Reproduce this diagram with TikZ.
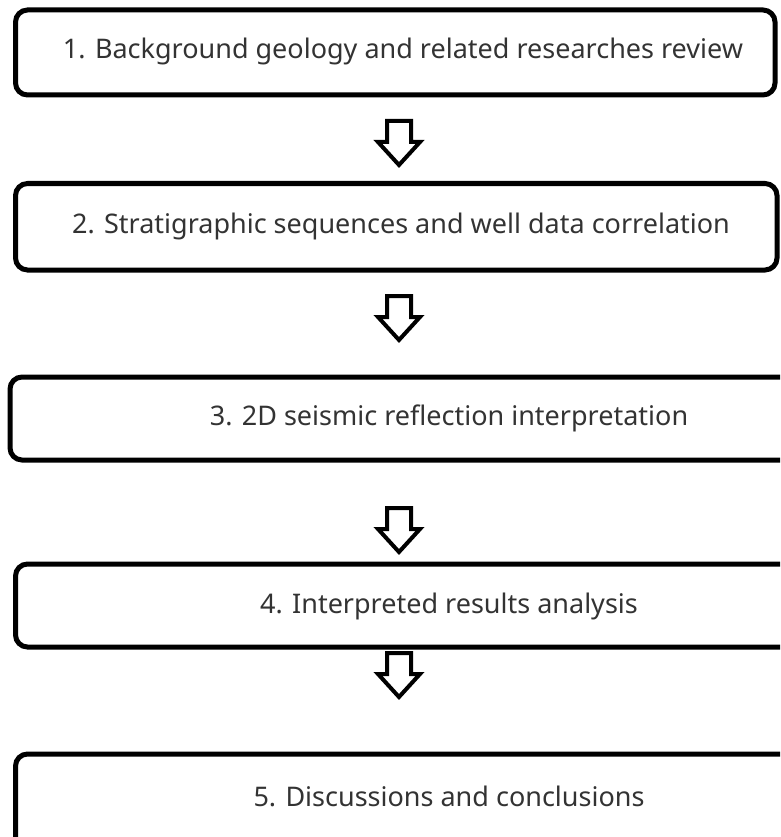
\documentclass[tikz,border=0pt]{standalone}
\usepackage{fontspec}
\setmainfont{Noto Sans}
\begin{document}
\begin{tikzpicture}[x=1pt,y=-1pt,
  stepbox/.style={draw=black,line width=5pt,rounded corners=12pt,fill=white},
  lbl/.style={font=\fontsize{27}{32}\selectfont,text=black!80,inner sep=0pt,anchor=center},
  downarrow/.style={draw=black,line width=4pt,line join=miter,fill=white}]
\useasboundingbox (0,0) rectangle (780,837);
\clip (0,0) rectangle (780,837);
% boxes
\draw[stepbox] (15.5,10) rectangle (775,95);
\draw[stepbox] (15.5,183.5) rectangle (777,270);
\draw[stepbox] (10,377) rectangle (890,460);
\draw[stepbox] (15.5,564) rectangle (890,647);
\draw[stepbox] (15.5,754) rectangle (890,920);
% labels
\node[lbl] (t1) at (403,51) {1. Background geology and related researches review};
\node[lbl] (t2) at (401,226) {2. Stratigraphic sequences and well data correlation};
\node[lbl] (t3) at (449,418) {3. 2D seismic reflection interpretation};
\node[lbl] (t4) at (449,606) {4. Interpreted results analysis};
\node[lbl] (t5) at (449,796) {5. Discussions and conclusions};
% arrows
\foreach \n/\cx/\ty in {a1/399/121, a2/399/296, a3/399/508, a4/399/653}{
  \draw[downarrow] (\cx-12,\ty) -- (\cx+12,\ty) -- (\cx+12,\ty+21) -- (\cx+21,\ty+21)
    -- (\cx,\ty+44) -- (\cx-21,\ty+21) -- (\cx-12,\ty+21) -- cycle;
}
\end{tikzpicture}
\end{document}
